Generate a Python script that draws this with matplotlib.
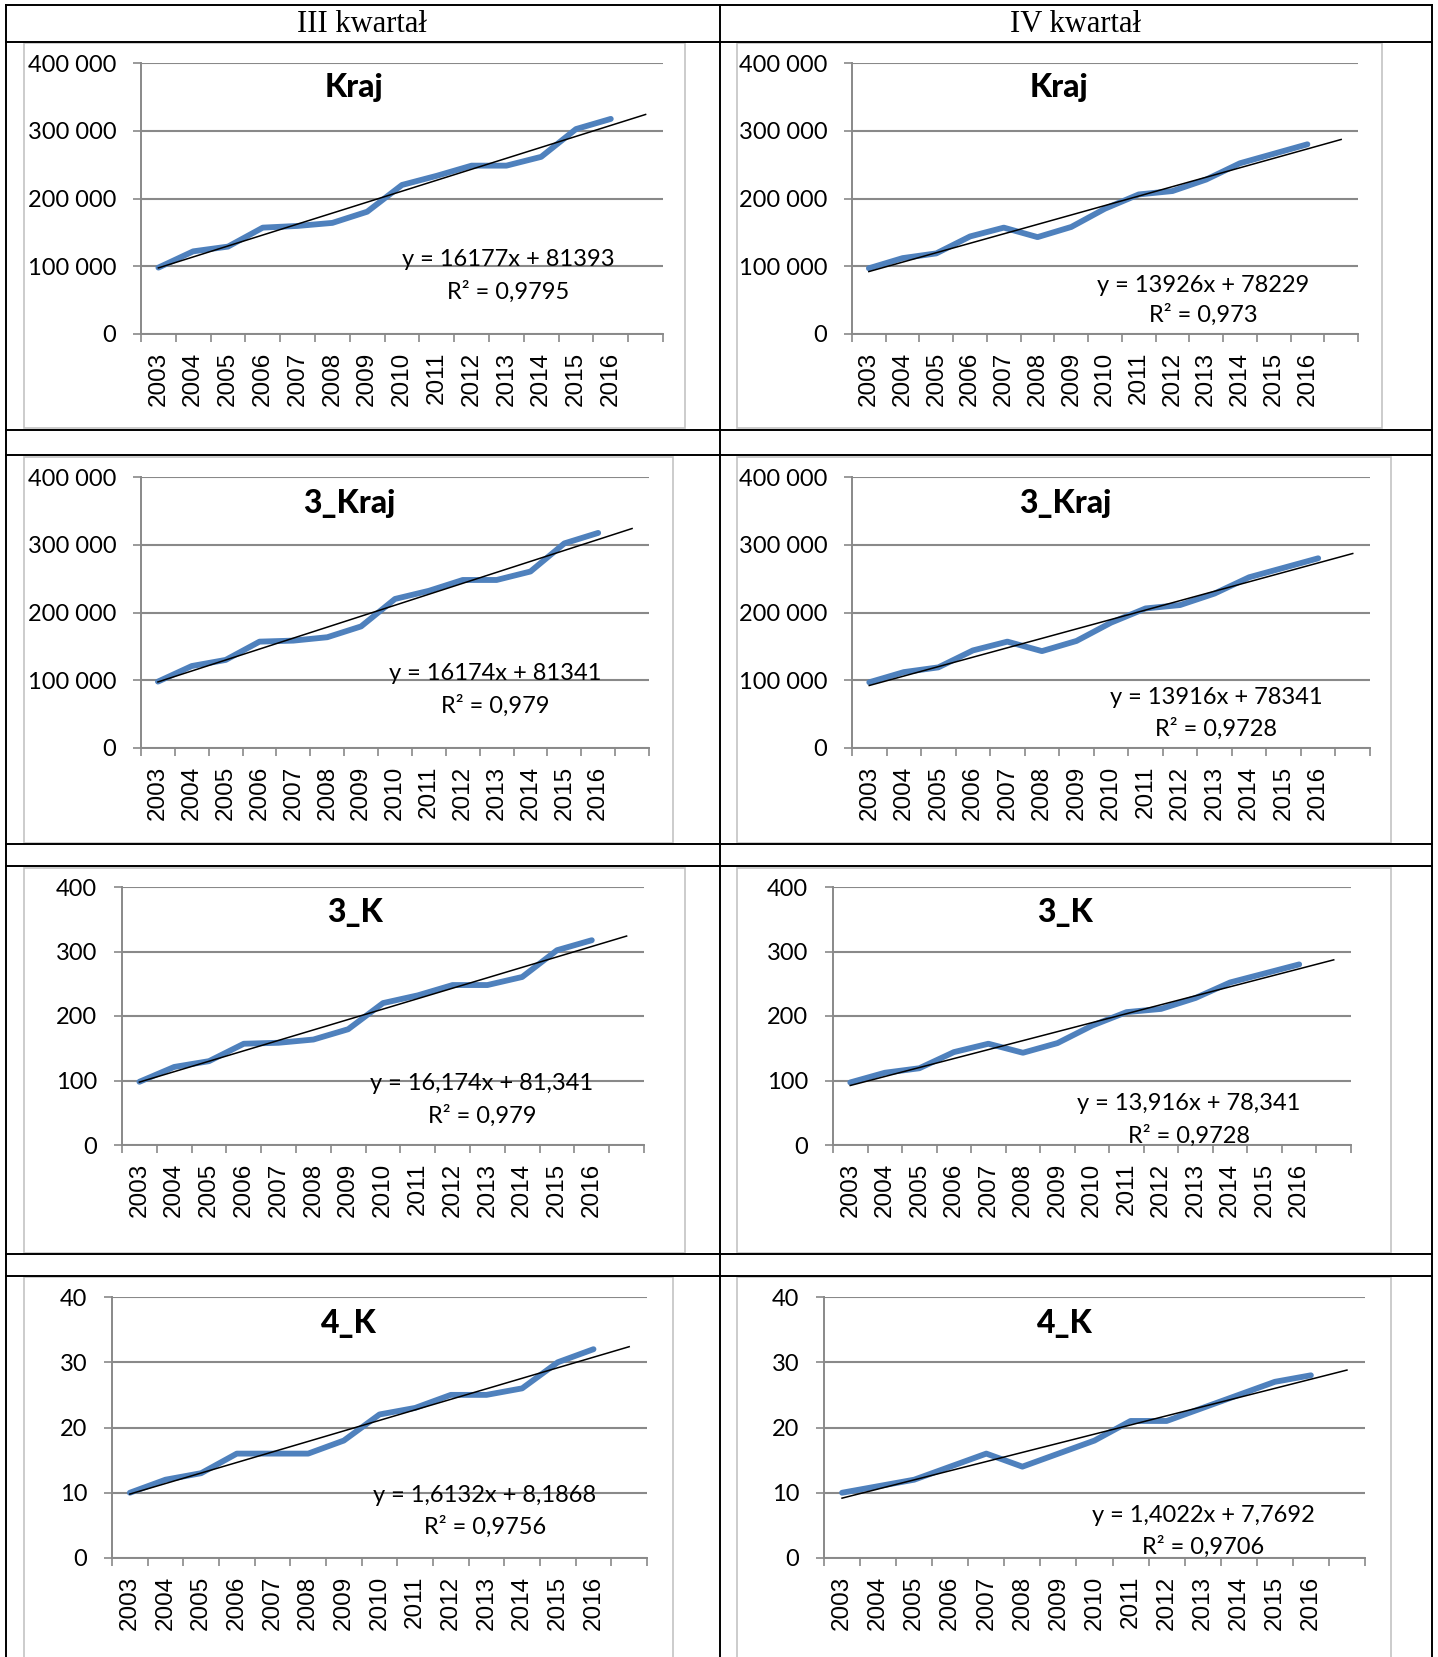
import matplotlib
matplotlib.use("Agg")
import matplotlib.pyplot as plt
from matplotlib.lines import Line2D
from matplotlib.patches import Rectangle
from matplotlib.ticker import FuncFormatter

plt.rcParams['font.family'] = ['Lato', 'DejaVu Sans']

# --- data ---
years = ["2003", "2004", "2005", "2006", "2007", "2008", "2009",
         "2010", "2011", "2012", "2013", "2014", "2015", "2016"]

kraj_III = [98000, 122000, 129000, 157000, 159500, 164000, 180500,
            220000, 233500, 248500, 248500, 261500, 302500, 317500]
kraj_IV = [97000, 112000, 119000, 144000, 157000, 143000, 158000,
           185000, 206000, 211000, 228000, 252000, 266000, 280000]
kraj3_III = [98000, 121000, 130000, 157000, 158500, 163500, 179500,
             220000, 232000, 248000, 248000, 260500, 302000, 317500]
kraj3_IV = [97000, 112000, 119000, 144000, 157000, 143000, 158000,
            185000, 206000, 211000, 228000, 252000, 266000, 280000]
k3_III = [98, 121, 130, 157, 158.5, 163.5, 179.5, 220, 232, 248, 248, 260.5, 302, 317.5]
k3_IV = [97, 112, 119, 144, 157, 143, 158, 185, 206, 211, 228, 252, 266, 280]
k4_III = [10, 12, 13, 16, 16, 16, 18, 22, 23, 25, 25, 26, 30, 32]
k4_IV = [10, 11, 12, 14, 16, 14, 16, 18, 21, 21, 23, 25, 27, 28]

# trend line y = slope * x + intercept (x = 1..14, forecast +1)
slopes = [16177, 13926, 16174, 13916, 16.174, 13.916, 1.6132, 1.4022]
intercepts = [81393, 78229, 81341, 78341, 81.341, 78.341, 8.1868, 7.7692]
eq_texts = ["y = 16177x + 81393", "y = 13926x + 78229",
            "y = 16174x + 81341", "y = 13916x + 78341",
            "y = 16,174x + 81,341", "y = 13,916x + 78,341",
            "y = 1,6132x + 8,1868", "y = 1,4022x + 7,7692"]
r2_texts = ["R² = 0,9795", "R² = 0,973", "R² = 0,979", "R² = 0,9728",
            "R² = 0,979", "R² = 0,9728", "R² = 0,9756", "R² = 0,9706"]
titles = ["Kraj", "Kraj", "3_Kraj", "3_Kraj", "3_K", "3_K", "4_K", "4_K"]
series = [kraj_III, kraj_IV, kraj3_III, kraj3_IV, k3_III, k3_IV, k4_III, k4_IV]
y_max = [400000, 400000, 400000, 400000, 400, 400, 40, 40]
y_step = [100000, 100000, 100000, 100000, 100, 100, 10, 10]
headers = ["III kwartał", "IV kwartał"]

# --- layout (pixels) ---
W, H = 1438, 1657
fig = plt.figure(figsize=(W / 100, H / 100), dpi=100)


def fx(x):
    return x / W


def fy(y):
    return 1 - y / H


# axes boxes: left, top, right, bottom
boxes = [(141, 63, 663, 334), (852, 63, 1358, 334),
         (141, 477, 649, 748), (852, 477, 1370, 748),
         (122, 887, 644, 1145), (833, 887, 1351, 1145),
         (112, 1297, 647, 1558), (824, 1297, 1365, 1558)]
frames = [(24, 43, 685, 428), (737, 43, 1382, 428),
          (24, 457, 673, 843), (737, 457, 1391, 843),
          (24, 868, 685, 1253), (737, 868, 1391, 1253),
          (24, 1277, 673, 1700), (737, 1277, 1391, 1700)]
title_pos = [(354, 88), (1059, 88), (349, 503), (1065, 503),
             (355, 913), (1065, 913), (349, 1323), (1065, 1323)]
eq_pos = [(508, 260, 292), (1203, 285, 315), (495, 673, 706), (1216, 697, 729),
          (482, 1083, 1116), (1189, 1104, 1136), (485, 1495, 1527), (1203, 1515, 1547)]

# table grid
for y in [5, 42, 430, 455, 844, 866, 1254, 1276]:
    fig.add_artist(Line2D([fx(6), fx(1432)], [fy(y), fy(y)], color='black', lw=1.4))
for x in [6, 720, 1432]:
    fig.add_artist(Line2D([fx(x), fx(x)], [fy(5), fy(1657)], color='black', lw=1.4))
fig.text(fx(362), fy(24), headers[0], family='Liberation Serif', fontsize=22,
         ha='center', va='center')
fig.text(fx(1075), fy(24), headers[1], family='Liberation Serif', fontsize=22,
         ha='center', va='center')

grid_col = '#898989'


def thousands(v, _):
    return f"{int(round(v)):,}".replace(",", " ")


for i in range(8):
    x0, y0, x1, y1 = frames[i]
    fig.add_artist(Rectangle((fx(x0), fy(y1)), fx(x1 - x0), (y1 - y0) / H,
                             fill=False, edgecolor='#c3c3c3', lw=1.2))
    l, t, r, b = boxes[i]
    ax = fig.add_axes([fx(l), fy(b), fx(r - l), (b - t) / H])
    ax.set_facecolor('none')
    pos = [k + 0.5 for k in range(len(years))]
    ax.plot(pos, series[i], color='#4f81bd', lw=4.2,
            solid_capstyle='round', solid_joinstyle='round', zorder=3)
    tx = [k + 0.5 for k in range(len(years) + 1)]
    ty = [slopes[i] * (k + 1) + intercepts[i] for k in range(len(years) + 1)]
    ax.plot(tx, ty, color='black', lw=1.1, zorder=4)

    ax.set_xlim(0, len(years) + 1)
    ax.set_ylim(0, y_max[i])
    ax.set_yticks([y_step[i] * k for k in range(5)])
    ax.yaxis.set_major_formatter(FuncFormatter(thousands))
    ax.grid(axis='y', color=grid_col, lw=1.5, zorder=0)
    ax.tick_params(axis='y', length=5.8, width=1.2, color=grid_col, pad=12,
                   labelsize=17)

    ax.set_xticks(range(len(years) + 2))
    ax.set_xticklabels([])
    ax.set_xticks(pos, minor=True)
    ax.set_xticklabels(years, minor=True, rotation=90,
                       family='Liberation Sans', fontsize=17.5)
    ax.tick_params(axis='x', which='major', length=5.4, width=1.2, color=grid_col)
    ax.tick_params(axis='x', which='minor', length=0, pad=13)

    for s in ['top', 'right']:
        ax.spines[s].set_visible(False)
    for s in ['left', 'bottom']:
        ax.spines[s].set_color(grid_col)
        ax.spines[s].set_linewidth(1.4)

    cx, cy = title_pos[i]
    fig.text(fx(cx), fy(cy), titles[i], fontsize=23, fontweight='black',
             ha='center', va='center')
    ex, ey1, ey2 = eq_pos[i]
    fig.text(fx(ex), fy(ey1), eq_texts[i], fontsize=17, ha='center', va='center')
    fig.text(fx(ex), fy(ey2), r2_texts[i], fontsize=17, ha='center', va='center')

fig.savefig("out.png", dpi=100)
